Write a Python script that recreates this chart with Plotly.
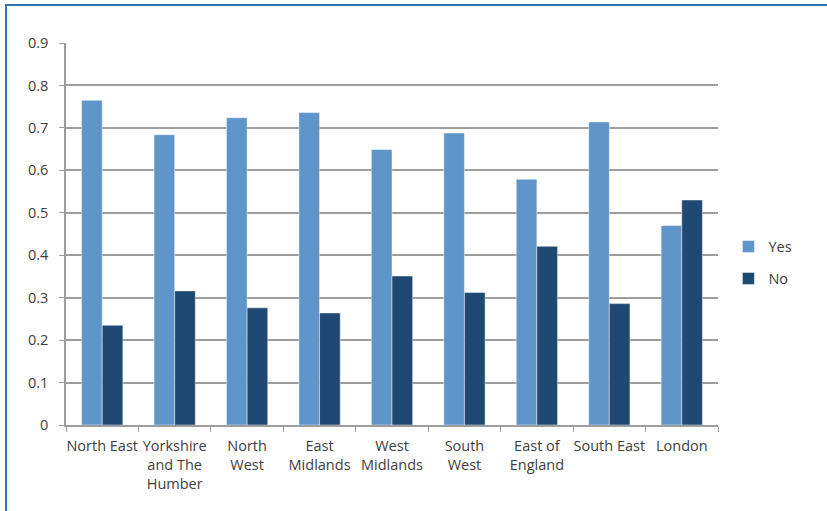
import plotly.graph_objects as go

regions = ["North East", "Yorkshire<br>and The<br>Humber", "North<br>West", "East<br>Midlands",
           "West<br>Midlands", "South<br>West", "East of<br>England", "South East", "London"]
yes_share = [0.765, 0.684, 0.724, 0.736, 0.649, 0.688, 0.579, 0.714, 0.470]
no_share = [0.235, 0.316, 0.276, 0.264, 0.351, 0.312, 0.421, 0.286, 0.530]
y_ticks = [0, 0.1, 0.2, 0.3, 0.4, 0.5, 0.6, 0.7, 0.8, 0.9]

FONT = "Open Sans"
TEXT = "#404040"
GRID = "#9d9d9d"

fig = go.Figure()
fig.add_trace(go.Bar(x=regions, y=yes_share, name="Yes", legendgroup="yes",
                     marker=dict(color="#5f95c9", line=dict(color="rgba(255,255,255,0.45)", width=1))))
fig.add_trace(go.Bar(x=regions, y=no_share, name="No", legendgroup="no",
                     marker=dict(color="#1f4873", line=dict(color="rgba(255,255,255,0.45)", width=1))))

fig.update_layout(
    width=827, height=511,
    margin=dict(l=66, r=109, t=43, b=86),
    paper_bgcolor="white", plot_bgcolor="white",
    barmode="group", bargap=0.43, bargroupgap=0,
    font=dict(family=FONT, size=14.5, color=TEXT),
    showlegend=True,
    legend=dict(x=1.016, y=0.425, xanchor="left", yanchor="middle",
                font=dict(family=FONT, size=14.5, color=TEXT),
                tracegroupgap=10, itemwidth=30, bgcolor="rgba(0,0,0,0)"),
    xaxis=dict(type="category", tickson="boundaries", ticks="outside", ticklen=5,
               tickcolor=GRID, showline=True, linecolor=GRID, linewidth=1.5,
               showgrid=False, tickangle=0, automargin=False, ticklabelstandoff=7,
               tickfont=dict(family=FONT, size=14.5, color=TEXT)),
    yaxis=dict(range=[0, 0.9], tickvals=y_ticks, ticktext=[f"{v:g}" for v in y_ticks],
               ticks="outside", ticklen=5, tickcolor=GRID, showline=True, linecolor=GRID,
               linewidth=1.5, showgrid=True, gridcolor=GRID, gridwidth=1.5, zeroline=False,
               automargin=False, ticklabelstandoff=8,
               tickfont=dict(family=FONT, size=14.5, color=TEXT)),
)

# Frame around the chart (left and top edges visible, the rest runs off the page)
fig.add_shape(type="rect", xref="paper", yref="paper",
              x0=(6 - 66) / 652, x1=1.3, y0=-0.4, y1=(425 - 5) / 382,
              line=dict(color="#2f76b6", width=2), fillcolor="rgba(0,0,0,0)", layer="below")

fig.write_html("out.html")
